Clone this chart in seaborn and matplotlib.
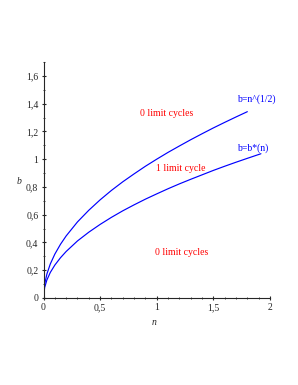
import numpy as np
import pandas as pd
import seaborn as sns
import matplotlib.pyplot as plt
from matplotlib.ticker import MultipleLocator, FuncFormatter

sns.set_style('ticks')
plt.rcParams['font.family'] = ['Liberation Serif', 'DejaVu Serif']

# values
n_upper = [0, 0.01, 0.03, 0.06, 0.1, 0.15, 0.2, 0.3, 0.4, 0.5, 0.6, 0.7, 0.8, 0.9,
           1.0, 1.1, 1.2, 1.3, 1.4, 1.5, 1.6, 1.7, 1.8]
b_upper = [0, 0.1, 0.173, 0.245, 0.316, 0.387, 0.447, 0.548, 0.632, 0.707, 0.775,
           0.837, 0.894, 0.949, 1.0, 1.049, 1.095, 1.140, 1.183, 1.225, 1.265, 1.304, 1.342]
n_lower = [0, 0.01, 0.03, 0.06, 0.1, 0.15, 0.2, 0.3, 0.4, 0.5, 0.6, 0.7, 0.8, 0.9,
           1.0, 1.1, 1.2, 1.3, 1.4, 1.5, 1.6, 1.7, 1.8, 1.92]
b_lower = [0, 0.075, 0.13, 0.184, 0.237, 0.29, 0.335, 0.411, 0.474, 0.53, 0.581,
           0.628, 0.671, 0.712, 0.75, 0.787, 0.822, 0.855, 0.887, 0.919, 0.949,
           0.978, 1.006, 1.039]

region_labels = ['0 limit cycles', '1 limit cycle', '0 limit cycles']
region_x = [1.09, 1.21, 1.22]
region_y = [1.33, 0.935, 0.33]
curve_labels = ['b=n^(1/2)', 'b=b*(n)']
curve_x = [1.875, 1.85]
curve_y = [1.43, 1.08]

fig = plt.figure(figsize=(2.98, 3.85), dpi=100)
ax = fig.add_axes([0.146, 0.226, 0.76, 0.613])

sns.lineplot(x=n_upper, y=b_upper, ax=ax, color='#0000ff', lw=0.85, sort=False)
sns.lineplot(x=n_lower, y=b_lower, ax=ax, color='#0000ff', lw=0.85, sort=False)

for t, x, y in zip(region_labels, region_x, region_y):
    ax.text(x, y, t, color='#ff0000', fontsize=7, ha='center', va='center')
for t, x, y in zip(curve_labels, curve_x, curve_y):
    ax.text(x, y, t, color='#0000ff', fontsize=7, ha='center', va='center')

ax.set_xlim(0, 2)
ax.set_ylim(0, 1.7)
ax.spines['top'].set_visible(False)
ax.spines['right'].set_visible(False)
ax.xaxis.set_major_locator(MultipleLocator(0.5))
ax.xaxis.set_minor_locator(MultipleLocator(0.1))
ax.yaxis.set_major_locator(MultipleLocator(0.2))
ax.yaxis.set_minor_locator(MultipleLocator(0.1))
fmt = FuncFormatter(lambda v, p: ('%g' % round(v, 2)).replace('.', ','))
ax.xaxis.set_major_formatter(fmt)
ax.yaxis.set_major_formatter(fmt)
ax.tick_params(which='major', length=3.5, width=0.8, labelsize=7, pad=2, direction='inout')
ax.tick_params(which='minor', length=2, width=0.6, direction='inout')
ax.set_xlabel('n', fontsize=7, style='italic')
ax.set_ylabel('b', fontsize=7, style='italic', rotation=0, va='center')
ax.xaxis.set_label_coords(0.49, -0.085)
ax.yaxis.set_label_coords(-0.11, 0.495)

plt.savefig('out.png', dpi=100)
